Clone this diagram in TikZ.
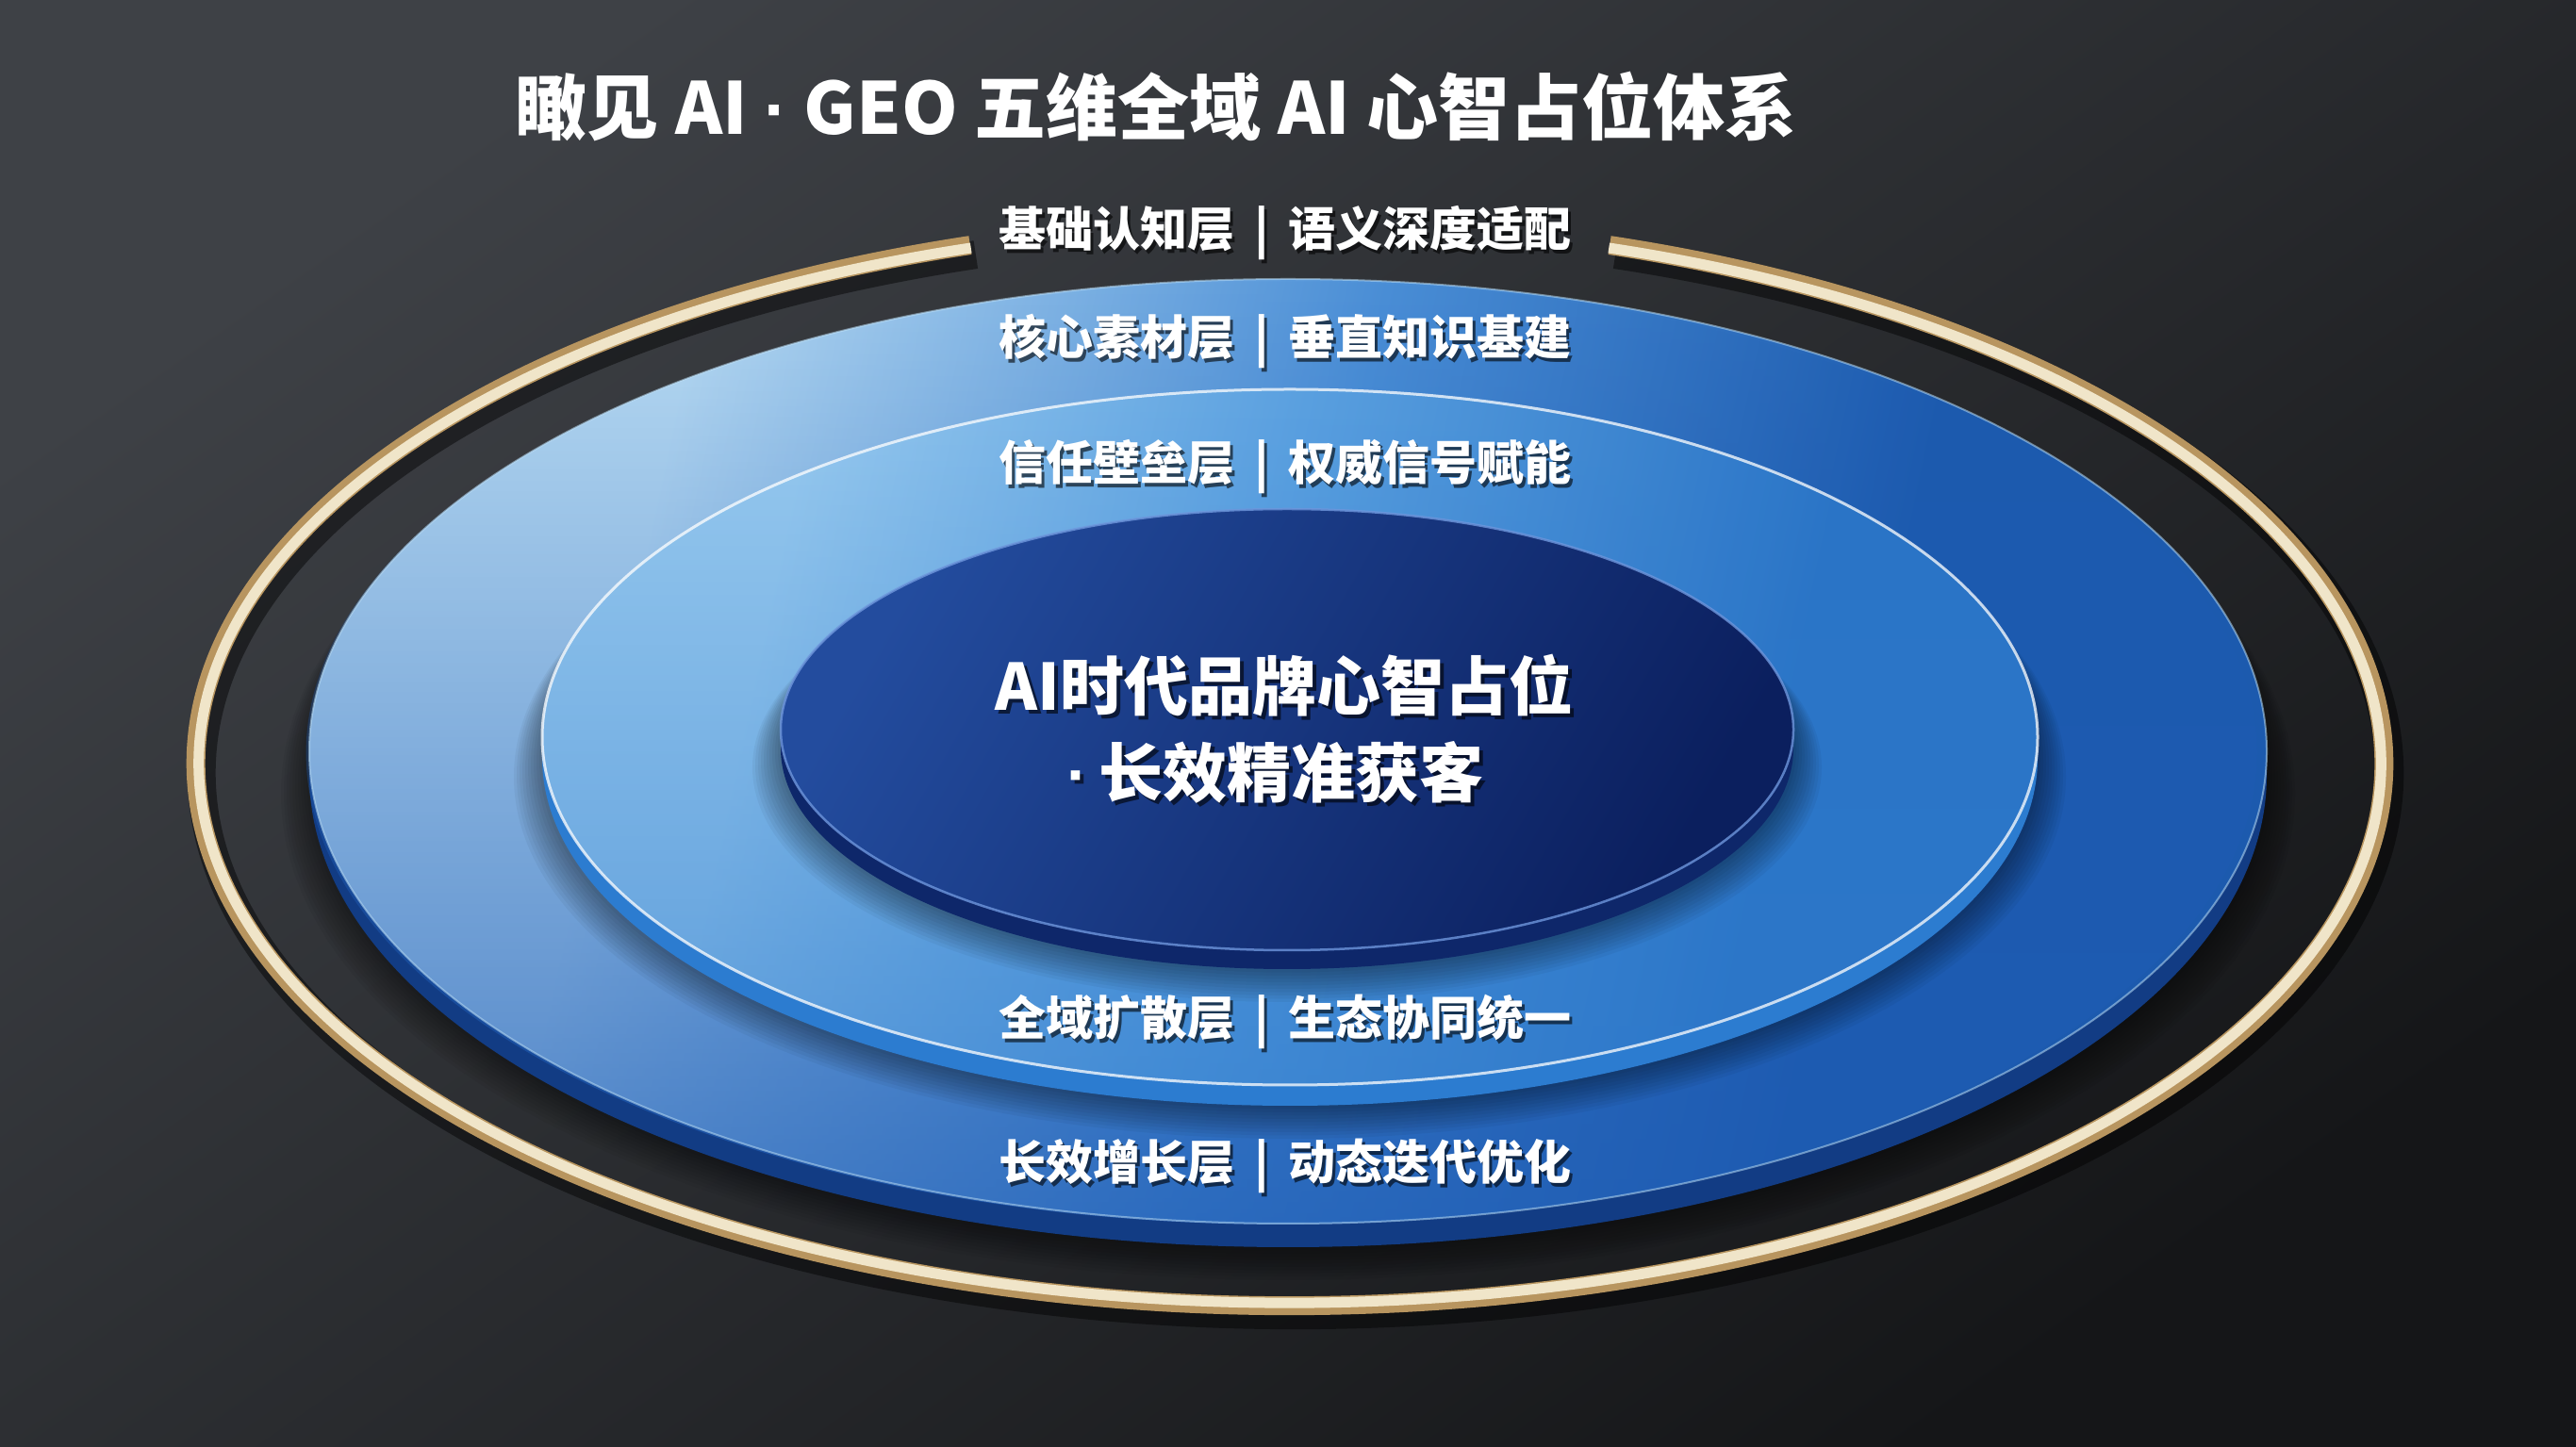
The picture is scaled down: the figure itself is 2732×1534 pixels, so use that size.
\documentclass[tikz,border=0pt]{standalone}
\usepackage{fontspec}
\setmainfont{Noto Sans CJK SC}
\newfontfamily\heavyf{Noto Sans CJK SC Black}
\newfontfamily\latinf{Liberation Sans}
\usetikzlibrary{calc,fadings}
\tikzfading[name=botfade, top color=transparent!100, middle color=transparent!100, bottom color=transparent!0]
\definecolor{bgA}{HTML}{3E4146}
\definecolor{bgB}{HTML}{151618}
\definecolor{goldD}{HTML}{B8955F}
\definecolor{goldL}{HTML}{F0E5C9}
\definecolor{oT}{HTML}{B8DBF3}
\definecolor{oM}{HTML}{4A8ED6}
\definecolor{oB}{HTML}{1C5AAE}
\definecolor{oS}{HTML}{123C84}
\definecolor{oF}{HTML}{1F5CB4}
\definecolor{mT}{HTML}{98CAEF}
\definecolor{mM}{HTML}{5AA0E0}
\definecolor{mB}{HTML}{2A74C6}
\definecolor{mS}{HTML}{2C7CD0}
\definecolor{mF}{HTML}{2F7ACC}
\definecolor{iT}{HTML}{234C9E}
\definecolor{iB}{HTML}{0B1F5E}
\definecolor{iS}{HTML}{0E276A}
\pgfdeclarehorizontalshading{outsh}{100bp}{color(0bp)=(oT); color(31bp)=(oT); color(50bp)=(oM); color(66bp)=(oB); color(100bp)=(oB)}
\pgfdeclarehorizontalshading{midsh}{100bp}{color(0bp)=(mT); color(30bp)=(mT); color(48bp)=(mM); color(68bp)=(mB); color(100bp)=(mB)}
\newcommand\mydisc[9]{%
  \foreach \i in {1,...,10}{%
    \pgfmathsetmacro\rxa{#4+3*\i}%
    \pgfmathsetmacro\rya{#5+1.5*\i}%
    \pgfmathsetmacro\cya{#3-#6-2*\i}%
    \fill[black,opacity=0.045] (#2,\cya) ellipse[x radius=\rxa, y radius=\rya];
  }
  \coordinate (#1) at (#2,#3);
  \fill[#7] ([yshift=-#6]#1) ellipse[x radius=#4, y radius=#5];
  \fill[#7] ([shift={(-#4,-#6)}]#1) rectangle ([xshift=#4]#1);
  \path[#8] (#1) ellipse[x radius=#4, y radius=#5];
}
\newcommand\myrim[4]{\draw[#4] (#1) ellipse[x radius=#2, y radius=#3];}
\newcommand\dotc{{\latinf\bfseries\textperiodcentered}}
\newcommand\barsep{\hspace{0.42em}|\hspace{0.42em}}
\begin{document}
\begin{tikzpicture}[x=1pt,y=1pt,
  lbl/.style={text=white,font=\bfseries\fontsize{50}{60}\selectfont,inner sep=0pt,anchor=center},
  lblsh/.style={text=black,opacity=0.6,font=\bfseries\fontsize{50}{60}\selectfont,inner sep=0pt,anchor=center},
  ttl/.style={text=white,font=\heavyf\fontsize{76}{84}\selectfont,inner sep=0pt,anchor=center},
  ctr/.style={text=white,font=\bfseries\fontsize{68}{92}\selectfont,inner sep=0pt,anchor=center,align=center},
  ctrsh/.style={text=black,opacity=0.6,font=\bfseries\fontsize{68}{92}\selectfont,inner sep=0pt,anchor=center,align=center},
  ringpath/.style={line cap=butt}
]
\useasboundingbox (0,0) rectangle (2732,1534);
\shade[top color=bgA, bottom color=bgB, shading angle=35] (0,0) rectangle (2732,1534);

% gold ring
\coordinate (ringc) at (1368,724);
\coordinate (ringsh) at (1374,714);
\draw[black,opacity=0.45,line width=30,ringpath] ([shift={(107:1160 and 575)}]ringsh) arc[start angle=107,end angle=433,x radius=1160,y radius=575];
\draw[goldD,line width=20,ringpath] ([shift={(107:1160 and 575)}]ringc) arc[start angle=107,end angle=433,x radius=1160,y radius=575];
\draw[goldL,line width=11,ringpath] ([shift={(107:1157 and 572)}]ringc) arc[start angle=107,end angle=433,x radius=1157,y radius=572];

% outer disc
\mydisc{outer}{1366}{737}{1038}{501}{25}{oS}{shading=outsh,shading angle=-12}{}
\fill[oF,opacity=0.7,path fading=botfade] (outer) ellipse[x radius=1038, y radius=501];
\myrim{outer}{1038}{501}{draw=oT,opacity=0.55,line width=2}
% middle disc
\mydisc{middle}{1368}{752}{793}{369}{22}{mS}{shading=midsh,shading angle=-12}{}
\fill[mF,opacity=0.55,path fading=botfade] (middle) ellipse[x radius=793, y radius=369];
\myrim{middle}{793}{369}{draw=white,opacity=0.75,line width=3}
% inner disc
\mydisc{inner}{1365}{760}{537}{234}{20}{iS}{top color=iT,bottom color=iB,shading angle=60}{}
\myrim{inner}{537}{234}{draw={rgb,255:red,110;green,150;blue,220},opacity=0.8,line width=2.5}

% title
\node[ttl] (title) at (1226,1421) {瞰见 AI \dotc{} GEO 五维全域 AI 心智占位体系};

% layer labels
\node[lblsh] (l1s) at (1366,1283) {基础认知层\barsep 语义深度适配};
\node[lbl] (l1) at (1363,1287) {基础认知层\barsep 语义深度适配};
\node[lblsh] (l2s) at (1366,1168) {核心素材层\barsep 垂直知识基建};
\node[lbl] (l2) at (1363,1172) {核心素材层\barsep 垂直知识基建};
\node[lblsh] (l3s) at (1366,1035) {信任壁垒层\barsep 权威信号赋能};
\node[lbl] (l3) at (1363,1039) {信任壁垒层\barsep 权威信号赋能};
\node[lblsh] (l4s) at (1366,446) {全域扩散层\barsep 生态协同统一};
\node[lbl] (l4) at (1363,450) {全域扩散层\barsep 生态协同统一};
\node[lblsh] (l5s) at (1366,293) {长效增长层\barsep 动态迭代优化};
\node[lbl] (l5) at (1363,297) {长效增长层\barsep 动态迭代优化};

% center
\node[ctrsh] (c1s) at (1366,803) {AI时代品牌心智占位};
\node[ctr] (c1) at (1362,807) {AI时代品牌心智占位};
\node[ctrsh] (c2s) at (1356,711) {\dotc\,长效精准获客};
\node[ctr] (c2) at (1352,715) {\dotc\,长效精准获客};
\end{tikzpicture}
\end{document}
